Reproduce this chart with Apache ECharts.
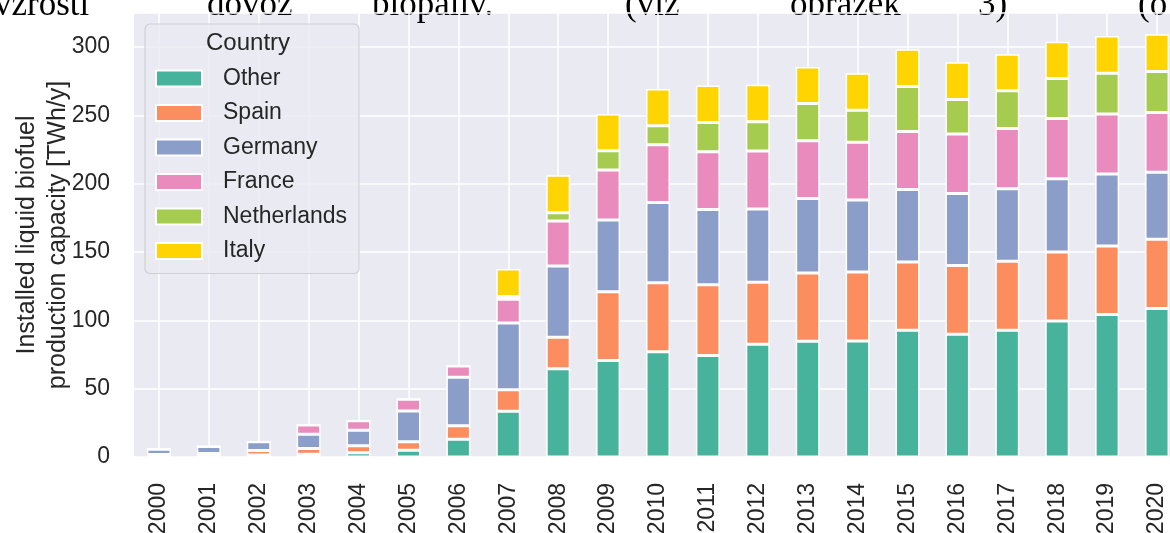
<!DOCTYPE html>
<html>
<head>
<meta charset="utf-8">
<script src="https://cdn.jsdelivr.net/npm/echarts@6/dist/echarts.min.js"></script>
</head>
<body style="margin: 0; background: #fff">
<div id="container" style="width: 1170px; height: 533px"></div>
<script>
// values, TWh/y
var years = ['2000', '2001', '2002', '2003', '2004', '2005', '2006', '2007', '2008', '2009', '2010',
             '2011', '2012', '2013', '2014', '2015', '2016', '2017', '2018', '2019', '2020'];
var countries = ['Other', 'Spain', 'Germany', 'France', 'Netherlands', 'Italy'];
var other       = [1, 1.2, 1.5, 2.1, 3.1, 5, 13, 33.4, 64.6, 70.7, 77, 74.3, 82.6, 84.8, 85, 92.8, 89.9, 92.8, 99.6, 104.3, 108.7];
var spain       = [0.8, 1.3, 3.3, 4.1, 5.1, 6.1, 9.8, 15.9, 23.1, 50.3, 50.6, 51.8, 45.3, 49.9, 50.4, 49.9, 50.2, 50.4, 50.4, 50.1, 50.6];
var germany     = [3.8, 5.2, 6.3, 10.5, 11.4, 22.6, 35.5, 48.7, 52.1, 52.4, 58.7, 55.1, 53.7, 54.5, 52.8, 53.1, 52.7, 53.1, 53.6, 52.8, 49.1];
var france      = [0, 0, 0, 6.8, 7, 8.6, 8.3, 17.5, 33, 36.7, 42.3, 42.3, 42.4, 42.3, 42.1, 42.5, 43.6, 44.2, 44.2, 43.8, 43.8];
var netherlands = [0, 0, 0, 0, 0, 0, 0, 1.9, 5.9, 14.1, 13.9, 21.4, 21.4, 27.3, 23.6, 32.9, 25.3, 27.5, 29.2, 29.9, 29.9];
var italy       = [0, 0, 0, 0, 0, 0, 0, 20.2, 27.5, 26.8, 26.8, 27, 27, 26.7, 27, 27.2, 27.3, 26.8, 27, 27.3, 27.3];
var colors = ['#48b39d', '#fc8d5e', '#8b9dc9', '#ea8bbd', '#a5cc4f', '#ffd400'];

// cut-off line of the surrounding document text
var topWords = [
    ['vzrostl', -6], ['dovoz', 207], ['biopaliv.', 372], ['(viz', 625],
    ['obrázek', 790], ['3)', 978], ['(o', 1138]
];

var seriesValues = [other, spain, germany, france, netherlands, italy];
var font = 'Liberation Sans, Arial, sans-serif';
var textColor = '#262626';

var chart = echarts.init(document.getElementById('container'));

var series = countries.map(function (name, i) {
    return {
        name: name,
        type: 'bar',
        stack: 'total',
        barWidth: 24,
        itemStyle: { color: colors[i], borderColor: '#ffffff', borderWidth: 1.5 },
        data: seriesValues[i]
    };
});

var graphics = topWords.map(function (w) {
    return {
        type: 'text',
        left: w[1],
        top: -12,
        style: { text: w[0], font: '35px "Liberation Serif", "Times New Roman", serif', fill: '#000' }
    };
});
graphics.push({
    type: 'text',
    left: 206,
    top: 31,
    z: 10,
    style: { text: 'Country', fontSize: 24, fontFamily: font, fill: textColor }
});

var option = {
    animation: false,
    backgroundColor: '#ffffff',
    color: colors,
    grid: {
        left: 134,
        right: -12,
        top: 13,
        bottom: 76,
        containLabel: false,
        outerBoundsMode: 'none',
        show: true,
        backgroundColor: '#eaeaf2',
        borderWidth: 0
    },
    legend: {
        orient: 'vertical',
        left: 145,
        top: 24,
        padding: [43, 12, 11, 10],
        icon: 'rect',
        itemWidth: 46,
        itemHeight: 16,
        itemGap: 11.5,
        backgroundColor: 'rgba(234,234,242,0.85)',
        borderColor: '#cfcfd6',
        borderWidth: 1.2,
        borderRadius: 5,
        textStyle: { fontSize: 23, lineHeight: 22, fontFamily: font, color: textColor, padding: [0, 0, 0, 16] },
        data: countries
    },
    xAxis: {
        type: 'category',
        data: years,
        axisLine: { show: false },
        axisTick: { show: false, alignWithLabel: true },
        axisLabel: { rotate: 90, interval: 0, margin: 26, fontSize: 23, fontFamily: font, color: textColor },
        splitLine: { show: true, alignWithLabel: true, interval: 0, lineStyle: { color: '#ffffff', width: 1.5 } }
    },
    yAxis: {
        type: 'value',
        min: 0,
        max: 325,
        interval: 50,
        axisLine: { show: false },
        axisTick: { show: false },
        axisLabel: { margin: 24, fontSize: 23, fontFamily: font, color: textColor, showMaxLabel: false },
        splitLine: { lineStyle: { color: '#ffffff', width: 1.5 } },
        name: 'Installed liquid biofuel\nproduction capacity [TWh/y]',
        nameLocation: 'middle',
        nameGap: 60,
        nameMoveOverlap: false,
        nameTextStyle: { fontSize: 25, lineHeight: 31, fontFamily: font, color: textColor }
    },
    graphic: graphics,
    series: series
};

chart.setOption(option);
</script>
</body>
</html>
